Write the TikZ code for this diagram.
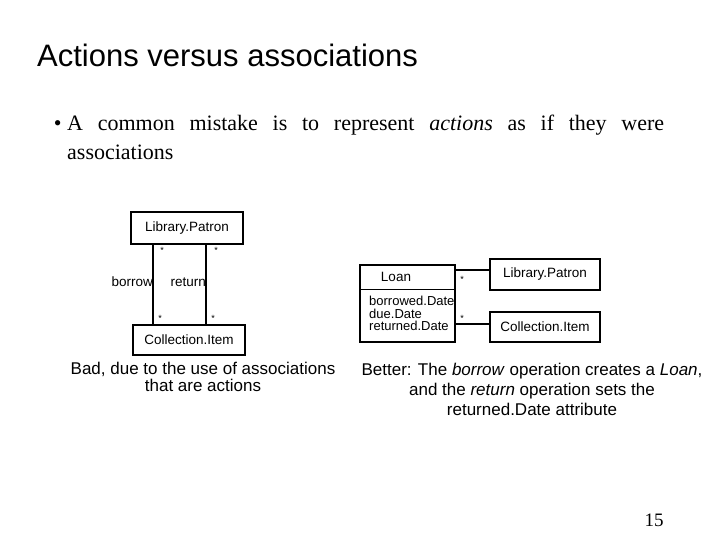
\documentclass[tikz,border=0pt]{standalone}
\usepackage{fontspec}
\setmainfont{Liberation Sans}
\newfontfamily\serif{Liberation Serif}
\begin{document}
\begin{tikzpicture}[x=1pt,y=-1pt,
  cls/.style={draw,line width=1.3pt,inner sep=0pt},
  assoc/.style={line width=1.5pt},
  lbl/.style={font=\fontsize{13.5}{14}\selectfont,inner sep=0pt},
  mult/.style={font=\fontsize{9}{9}\selectfont,inner sep=0pt}]
\useasboundingbox (0,0) rectangle (720,540);
\node[anchor=west,font=\fontsize{31}{33}\selectfont,inner sep=0pt] (title) at (37,55) {Actions versus associations};
\node[anchor=north west,text width=597pt,align=justify,font=\serif\fontsize{22}{29}\selectfont,inner sep=0pt] (bul) at (67,115)
 {\llap{•\ }A common mistake is to represent \textit{actions} as if they were\linebreak associations};
% left diagram
\node[cls,minimum width=112pt,minimum height=32pt,lbl] (lp1) at (187,228) {Library.Patron};
\node[cls,minimum width=112pt,minimum height=30pt,lbl] (ci1) at (189,340) {Collection.Item};
\coordinate (b1) at (153,244); \coordinate (b2) at (153,325);
\coordinate (r1) at (206,244); \coordinate (r2) at (206,325);
\draw[assoc] (b1) -- (b2);
\draw[assoc] (r1) -- (r2);
\node[lbl,anchor=east] (bl) at (153,282) {borrow};
\node[lbl,anchor=east] (rl) at (206,282) {return};
\node[mult] (m1) at (162,250) {*}; \node[mult] (m2) at (216,250) {*};
\node[mult] (m3) at (160,318) {*}; \node[mult] (m4) at (213,318) {*};
% right diagram
\node[cls,minimum width=95pt,minimum height=77pt] (loan) at (407.5,303.5) {};
\draw[line width=1pt] (360,289) -- (455,289);
\node[lbl] (ln) at (396,277) {Loan};
\node[lbl,anchor=north west,align=left,font=\fontsize{13}{12.5}\selectfont] (attr) at (369,296) {borrowed.Date\\ due.Date\\returned.Date};
\node[cls,minimum width=110pt,minimum height=31pt,lbl] (lp2) at (545,274.5) {Library.Patron};
\node[cls,minimum width=110pt,minimum height=30pt,lbl] (ci2) at (545,327) {Collection.Item};
\draw[assoc] (lp2.west|-0,270) -- (455,270);
\draw[assoc] (ci2.west|-0,324) -- (455,324);
\node[mult] (m5) at (462,279) {*}; \node[mult] (m6) at (462,318) {*};
% captions
\node[align=center,font=\fontsize{17}{17}\selectfont] (c1) at (203,377) {Bad, due to the use of associations\\that are actions};
\node[align=center,font=\fontsize{17}{20}\selectfont] (c2) at (532,389) {Better: The \textit{borrow} operation creates a \textit{Loan},\\and the \textit{return} operation sets the\\returned.Date attribute};
\node[font=\serif\fontsize{19}{20}\selectfont] (pg) at (654,520) {15};
\end{tikzpicture}
\end{document}
